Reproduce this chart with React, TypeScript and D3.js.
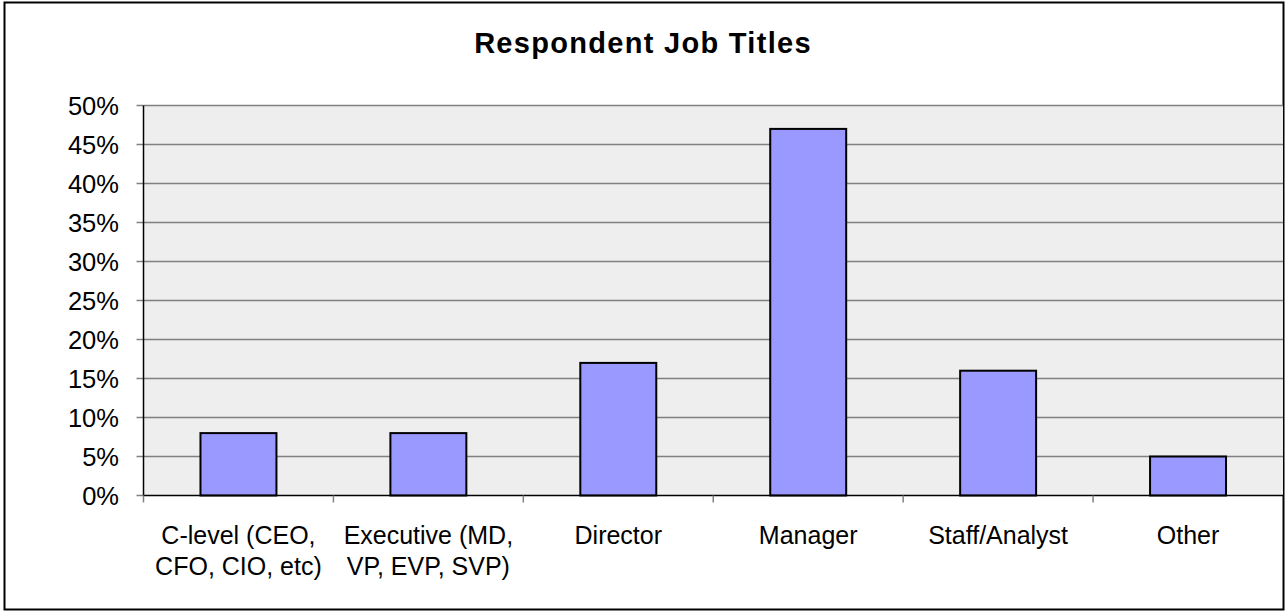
import React from "react";
import * as d3 from "d3";

const categories = [
  ["C-level (CEO,", "CFO, CIO, etc)"],
  ["Executive (MD,", "VP, EVP, SVP)"],
  ["Director"],
  ["Manager"],
  ["Staff/Analyst"],
  ["Other"],
];
const values = [8, 8, 17, 47, 16, 5];
const yTicks = [0, 5, 10, 15, 20, 25, 30, 35, 40, 45, 50];

const W = 1286;
const H = 612;
const plot = { left: 143.5, right: 1283, top: 105.5, bottom: 495.5 };

export default function App() {
  const x = d3
    .scaleBand<number>()
    .domain(d3.range(categories.length))
    .range([plot.left, plot.right])
    .paddingInner(0)
    .paddingOuter(0);
  const y = d3.scaleLinear().domain([0, 50]).range([plot.bottom, plot.top]);
  const bw = x.bandwidth() * 0.4;

  return (
    <svg
      width={W}
      height={H}
      style={{ position: "absolute", left: 0, top: 0, fontFamily: "Liberation Sans, Arial, sans-serif" }}
    >
      <rect x={0} y={0} width={W} height={H} fill="#fff" />
      <rect x={4.5} y={2.5} width={1279} height={607} fill="#fff" stroke="#000" strokeWidth={2} />
      <text x={W / 2} y={53} textAnchor="middle" fontSize={29} fontWeight="bold" letterSpacing={1.3}>
        Respondent Job Titles
      </text>

      <rect
        x={plot.left}
        y={plot.top}
        width={plot.right - plot.left}
        height={plot.bottom - plot.top}
        fill="#eeeeee"
      />
      {yTicks.map((t) => (
        <g key={t}>
          {t > 0 && (
            <line x1={plot.left} x2={plot.right} y1={y(t)} y2={y(t)} stroke="#808080" strokeWidth={1.5} />
          )}
          <line x1={plot.left - 7} x2={plot.left} y1={y(t)} y2={y(t)} stroke="#808080" strokeWidth={1.5} />
          <text x={119} y={y(t) + 9.5} textAnchor="end" fontSize={25.5}>
            {t}%
          </text>
        </g>
      ))}

      {values.map((v, i) => (
        <rect
          key={i}
          x={x(i)! + (x.bandwidth() - bw) / 2}
          y={y(v)}
          width={bw}
          height={y(0) - y(v)}
          fill="#9999ff"
          stroke="#000"
          strokeWidth={2}
        />
      ))}

      <line x1={plot.left} x2={plot.left} y1={plot.top} y2={plot.bottom} stroke="#000" strokeWidth={1.5} />
      <line x1={plot.left} x2={plot.right} y1={plot.bottom} y2={plot.bottom} stroke="#000" strokeWidth={1.5} />
      {d3.range(categories.length).map((i) => (
        <line
          key={i}
          x1={x(i)!}
          x2={x(i)!}
          y1={plot.bottom}
          y2={plot.bottom + 7}
          stroke="#808080"
          strokeWidth={1.5}
        />
      ))}

      {categories.map((lines, i) => (
        <text key={i} x={x(i)! + x.bandwidth() / 2} textAnchor="middle" fontSize={25}>
          {lines.map((l, j) => (
            <tspan key={j} x={x(i)! + x.bandwidth() / 2} y={544 + j * 31}>
              {l}
            </tspan>
          ))}
        </text>
      ))}
    </svg>
  );
}
